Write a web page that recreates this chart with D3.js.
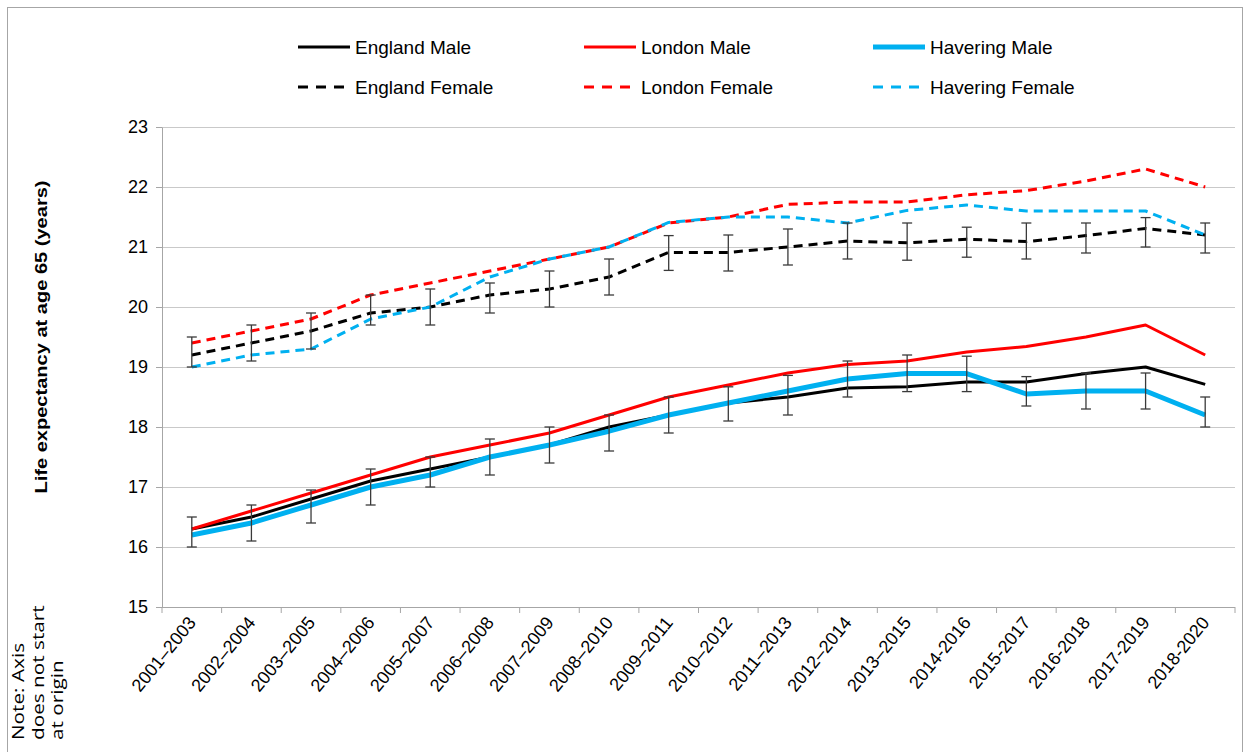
<!DOCTYPE html>
<meta charset="utf-8">
<script src="https://d3js.org/d3.v7.min.js"></script>
<style>
  body {
    margin: 0;
    background: #fff;
    font-family: 'Liberation Sans', Arial, sans-serif;
  }
  .axis .domain {
    stroke: #a6a6a6;
  }
  .axis line {
    stroke: #a6a6a6;
  }
</style>
<body>
<svg width="1246" height="752"></svg>
</body>
<script>

// periods on the x axis (later ones use a plain hyphen, as in the source)
var periods = ["2001–2003", "2002–2004", "2003–2005", "2004–2006", "2005–2007", "2006–2008",
  "2007–2009", "2008–2010", "2009–2011", "2010–2012", "2011–2013", "2012–2014", "2013–2015",
  "2014-2016", "2015-2017", "2016-2018", "2017-2019", "2018-2020"];

var englandMale    = [16.3, 16.5, 16.8, 17.1, 17.3, 17.5, 17.7, 18.0, 18.2, 18.4, 18.5, 18.65, 18.67, 18.75, 18.75, 18.89, 19.0, 18.71];
var londonMale     = [16.3, 16.6, 16.9, 17.2, 17.5, 17.7, 17.9, 18.2, 18.5, 18.7, 18.9, 19.04, 19.1, 19.25, 19.34, 19.5, 19.7, 19.2];
var haveringMale   = [16.2, 16.4, 16.7, 17.0, 17.2, 17.5, 17.7, 17.93, 18.2, 18.4, 18.6, 18.8, 18.89, 18.89, 18.55, 18.6, 18.6, 18.2];
var englandFemale  = [19.2, 19.4, 19.6, 19.9, 20.0, 20.2, 20.3, 20.5, 20.91, 20.91, 21.0, 21.1, 21.07, 21.13, 21.09, 21.19, 21.31, 21.2];
var londonFemale   = [19.4, 19.6, 19.8, 20.2, 20.4, 20.6, 20.8, 21.0, 21.4, 21.5, 21.71, 21.75, 21.75, 21.87, 21.94, 22.1, 22.3, 22.0];
var haveringFemale = [19.0, 19.2, 19.3, 19.8, 20.0, 20.5, 20.8, 21.0, 21.41, 21.5, 21.5, 21.4, 21.61, 21.7, 21.6, 21.6, 21.6, 21.2];

// confidence intervals shown as error bars
var maleLow    = [16.0, 16.1, 16.4, 16.7, 17.0, 17.2, 17.4, 17.6, 17.9, 18.1, 18.2, 18.5, 18.59, 18.59, 18.35, 18.3, 18.3, 18.0];
var maleHigh   = [16.5, 16.7, 16.95, 17.3, 17.5, 17.8, 18.0, 18.2, 18.5, 18.67, 18.86, 19.1, 19.2, 19.18, 18.84, 18.9, 18.9, 18.5];
var femaleLow  = [19.0, 19.1, 19.3, 19.7, 19.7, 19.9, 20.0, 20.2, 20.61, 20.6, 20.7, 20.8, 20.78, 20.83, 20.8, 20.9, 21.0, 20.9];
var femaleHigh = [19.5, 19.7, 19.9, 20.2, 20.3, 20.4, 20.6, 20.8, 21.19, 21.2, 21.3, 21.4, 21.4, 21.33, 21.4, 21.4, 21.49, 21.4];

var yTicks = [15, 16, 17, 18, 19, 20, 21, 22, 23];

var seriesNames = ["England Male", "London Male", "Havering Male", "England Female", "London Female", "Havering Female"];
var seriesValues = [englandMale, londonMale, haveringMale, englandFemale, londonFemale, haveringFemale];

var svg = d3.select("svg"),
    margin = {top: 127, right: 11, bottom: 145, left: 162},
    width = +svg.attr("width") - margin.left - margin.right,
    height = +svg.attr("height") - margin.top - margin.bottom;

var colour = d3.scaleOrdinal()
    .domain(seriesNames)
    .range(["#000000", "#ff0000", "#00b0f0", "#000000", "#ff0000", "#00b0f0"]);

function strokeWidth(name) { return name == "Havering Male" ? 5 : 3; }
function dash(name) { return name.indexOf("Female") >= 0 ? "9,6" : null; }

// outer frame
svg.append("rect")
    .attr("x", 7.5).attr("y", 7.5)
    .attr("width", 1235).attr("height", 770)
    .attr("fill", "none")
    .attr("stroke", "#a6a6a6");

var g = svg.append("g").attr("transform", "translate(" + margin.left + "," + margin.top + ")");

var x = d3.scaleBand().domain(periods).range([0, width]);
var y = d3.scaleLinear().domain([15, 23]).range([height, 0]);
function cx(i) { return x(periods[i]) + x.bandwidth() / 2; }

// gridlines
g.append("g")
  .selectAll("line")
  .data(yTicks.slice(1))
  .enter().append("line")
    .attr("x1", 0).attr("x2", width)
    .attr("y1", function(d) { return Math.round(y(d)) + 0.5; })
    .attr("y2", function(d) { return Math.round(y(d)) + 0.5; })
    .attr("stroke", "#c9c9c9");

// y axis
g.append("g")
    .attr("class", "axis")
    .call(d3.axisLeft(y).tickValues(yTicks).tickSize(6).tickSizeOuter(0).tickPadding(8))
    .selectAll("text")
    .attr("font-size", 18)
    .attr("font-family", "'Liberation Sans', Arial, sans-serif")
    .attr("fill", "#000");

// x axis: ticks at the category boundaries like the original
var xa = g.append("g").attr("class", "axis").attr("transform", "translate(0," + height + ")");
xa.append("line").attr("x1", 0).attr("x2", width).attr("y1", 0.5).attr("y2", 0.5).attr("stroke", "#a6a6a6");
xa.selectAll(".bt")
  .data(d3.range(periods.length + 1))
  .enter().append("line")
    .attr("class", "bt")
    .attr("x1", function(i) { return i * x.bandwidth(); })
    .attr("x2", function(i) { return i * x.bandwidth(); })
    .attr("y1", 0).attr("y2", 6);
xa.selectAll("text")
  .data(periods)
  .enter().append("text")
    .attr("transform", function(d, i) { return "translate(" + (cx(i) + 5) + ",16) rotate(-51)"; })
    .attr("text-anchor", "end")
    .attr("font-size", 18)
    .attr("fill", "#000")
    .text(function(d) { return d; });

// lines
var line = d3.line()
    .x(function(d, i) { return cx(i); })
    .y(function(d) { return y(d); });

function drawSeries(k) {
  var name = seriesNames[k];
  g.append("path")
    .datum(seriesValues[k])
    .attr("fill", "none")
    .attr("stroke", colour(name))
    .attr("stroke-width", strokeWidth(name))
    .attr("stroke-dasharray", dash(name))
    .attr("stroke-linejoin", "round")
    .attr("d", line);
}

function drawErrorBars(low, high) {
  var eb = g.append("g").attr("stroke", "#3a3a3a").attr("stroke-width", 1.3);
  low.forEach(function(lo, i) {
    var xx = cx(i), hi = high[i];
    eb.append("line").attr("x1", xx).attr("x2", xx).attr("y1", y(lo)).attr("y2", y(hi));
    eb.append("line").attr("x1", xx - 5).attr("x2", xx + 5).attr("y1", y(lo)).attr("y2", y(lo));
    eb.append("line").attr("x1", xx - 5).attr("x2", xx + 5).attr("y1", y(hi)).attr("y2", y(hi));
  });
}

drawSeries(0);
drawSeries(1);
drawSeries(2);
drawErrorBars(maleLow, maleHigh);
drawSeries(3);
drawSeries(4);
drawSeries(5);
drawErrorBars(femaleLow, femaleHigh);

// y axis title (the source is stretched a little vertically)
svg.append("text")
    .attr("transform", "translate(47,337) rotate(-90) scale(1.18,1)")
    .attr("text-anchor", "middle")
    .attr("font-size", 17)
    .attr("font-weight", "bold")
    .attr("fill", "#000")
    .text("Life expectancy at age 65 (years)");

// note in the bottom-left corner
var noteLines = ["Note: Axis", "does not start", "at origin"];
svg.selectAll(".note")
  .data(noteLines)
  .enter().append("text")
    .attr("class", "note")
    .attr("transform", function(d, i) { return "translate(" + (24 + i * 19.5) + ",740) rotate(-90) scale(1.22,1)"; })
    .attr("font-family", "'Open Sans', sans-serif")
    .attr("font-size", 17)
    .attr("fill", "#000")
    .text(function(d) { return d; });

// legend, two rows of three
var legendX = [298, 584, 873];
var legend = svg.append("g")
  .selectAll("g")
  .data(seriesNames)
  .enter().append("g")
    .attr("transform", function(d, i) { return "translate(" + legendX[i % 3] + "," + (47 + Math.floor(i / 3) * 40) + ")"; });

legend.append("line")
    .attr("x1", 0).attr("x2", 52)
    .attr("stroke", function(d) { return colour(d); })
    .attr("stroke-width", function(d) { return strokeWidth(d); })
    .attr("stroke-dasharray", function(d) { return dash(d) ? "10,8" : null; });

legend.append("text")
    .attr("x", 57)
    .attr("dy", "0.35em")
    .attr("font-size", 19)
    .attr("fill", "#000")
    .text(function(d) { return d; });

</script>
